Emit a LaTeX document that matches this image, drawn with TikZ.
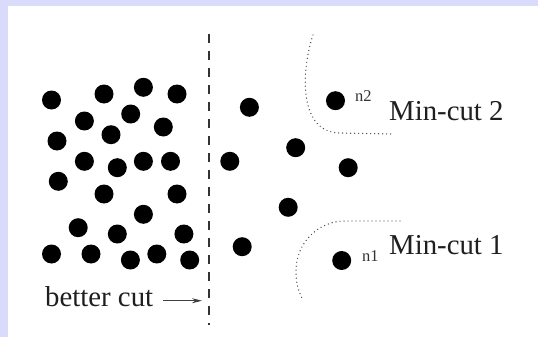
\documentclass[tikz,border=0pt]{standalone}
\usepackage{fontspec}
\setmainfont{Liberation Serif}
\usetikzlibrary{arrows.meta}
\definecolor{lav}{RGB}{218,218,250}
\begin{document}
\begin{tikzpicture}[x=1pt,y=-1pt,
  dot/.style={circle,fill=black,draw=none,inner sep=0pt,minimum size=19pt},
  lbl/.style={inner sep=0pt,anchor=base west,text=black!88,font=\fontsize{28.8}{30}\selectfont},
  small/.style={inner sep=0pt,anchor=base west,text=black!80,font=\fontsize{16.5}{17}\selectfont},
  cutcurve/.style={draw=black!70,line width=1.4pt,line cap=round,dash pattern=on 0pt off 4pt},
  cutline/.style={draw=black!80,line width=2.4pt,dash pattern=on 9pt off 8pt},
  pointer/.style={draw=black!75,line width=0.8pt,-{Stealth[length=10pt,width=5pt]}}]
\useasboundingbox (0,0) rectangle (538,337);
\fill[lav] (0,0) rectangle (538,337);
\fill[white] (8,6) rectangle (538,337);
% left cluster
\foreach \i/\x/\y in {1/51.5/100, 2/104/94, 3/143.4/87.3, 4/177/94, 5/84.4/121,
  6/130.7/114, 7/163.3/127, 8/57/141, 9/111/134.7, 10/84.4/161.3,
  11/117.3/167.7, 12/143.4/161.3, 13/170.5/161.3, 14/58.3/181.3, 15/104/194,
  16/177/194, 17/143.4/214.3, 18/78.2/227.7, 19/117.3/234, 20/183.9/234,
  21/51.5/254, 22/91/254, 23/130.4/260, 24/156.8/254, 25/189.7/260}
  \node[dot] (d\i) at (\x,\y) {};
% right side
\foreach \i/\x/\y in {1/249.4/107.3, 2/295.7/147.7, 3/229.8/161.3,
  4/348.2/167.7, 5/288.2/207.3, 6/242.2/246.7}
  \node[dot] (r\i) at (\x,\y) {};
\node[dot] (n2) at (335.5,100.7) {};
\node[dot] (n1) at (341.7,260.5) {};
\node[small] (n2lbl) at (355,101.7) {n2};
\node[small] (n1lbl) at (362,261) {n1};
% cut line
\coordinate (cutT) at (209,34);
\coordinate (cutB) at (209,325);
\draw[cutline] (cutT) -- (cutB);
% labels
\node[lbl] (better) at (45,306.7) {better cut};
\node[lbl] (mc2) at (389,120) {Min-cut 2};
\node[lbl] (mc1) at (389,254) {Min-cut 1};
\coordinate (arrS) at (163,300.7);
\coordinate (arrE) at (202,300.7);
\draw[pointer] (arrS) -- (arrE);
% min cut curves
\draw[cutcurve] (313,35) .. controls (300,75) and (300,133) .. (340,133) -- (392,134);
\draw[cutcurve] (400,221) -- (345,221) .. controls (318,221) and (296,243) .. (296,271)
  .. controls (296,285) and (299,292) .. (302,298);
\end{tikzpicture}
\end{document}
